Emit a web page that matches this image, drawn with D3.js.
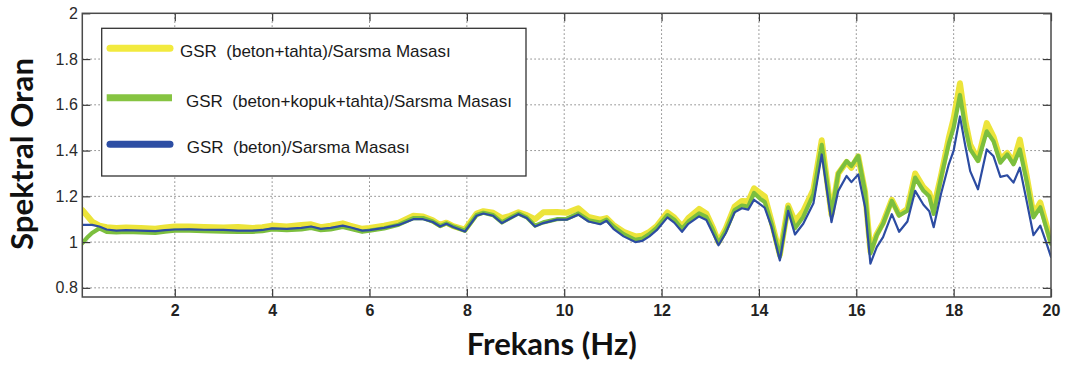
<!DOCTYPE html>
<html>
<head>
<meta charset="utf-8">
<script src="https://cdn.jsdelivr.net/npm/d3@7"></script>
<style>
  html, body { margin: 0; padding: 0; background: #fff; }
  svg { display: block; }
</style>
</head>
<body>
<svg id="chart" width="1065" height="372"></svg>
<script>
// ---- Data ----
const frequencies = [
  0.1, 0.2, 0.3, 0.45, 0.6, 0.8, 1.0, 1.3, 1.6, 1.8, 2.0, 2.3, 2.6, 3.0, 3.3, 3.6, 3.8,
  4.0, 4.3, 4.6, 4.8, 5.0, 5.2, 5.45, 5.6, 5.85, 6.0, 6.3, 6.6, 6.9, 7.1, 7.3, 7.45,
  7.58, 7.72, 7.96, 8.2, 8.34, 8.54, 8.72, 8.89, 9.06, 9.23, 9.4, 9.57, 9.85, 10.05,
  10.29, 10.5, 10.74, 10.87, 11.01, 11.22, 11.46, 11.6, 11.75, 11.9, 12.12, 12.26,
  12.42, 12.55, 12.77, 12.92, 13.05, 13.17, 13.32, 13.5, 13.65, 13.78, 13.9, 14.02,
  14.12, 14.26, 14.43, 14.6, 14.74, 14.91, 15.12, 15.2, 15.29, 15.49, 15.63, 15.8,
  15.9, 16.04, 16.18, 16.29, 16.42, 16.55, 16.73, 16.88, 17.05, 17.21, 17.38, 17.5,
  17.59, 17.74, 17.9, 18.0, 18.13, 18.24, 18.34, 18.5, 18.68, 18.82, 18.96, 19.1,
  19.23, 19.36, 19.5, 19.64, 19.78, 19.9, 20.0
];
const betonTahta = [ // yellow
  1.14, 1.115, 1.09, 1.072, 1.065, 1.062, 1.064, 1.062, 1.058, 1.064, 1.068, 1.068, 1.066, 1.064, 1.066, 1.062, 1.065,
  1.072, 1.068, 1.075, 1.078, 1.065, 1.072, 1.082, 1.072, 1.058, 1.062, 1.072, 1.085, 1.115, 1.112, 1.095, 1.075,
  1.085, 1.07, 1.055, 1.125, 1.135, 1.128, 1.105, 1.115, 1.13, 1.118, 1.1, 1.13, 1.132, 1.128,
  1.148, 1.11, 1.098, 1.105, 1.075, 1.045, 1.025, 1.028, 1.045, 1.07, 1.13, 1.108,
  1.068, 1.105, 1.145, 1.125, 1.065, 1.0, 1.06, 1.155, 1.18, 1.178, 1.235, 1.215,
  1.2, 1.09, 0.945, 1.16, 1.09, 1.135, 1.23, 1.33, 1.445, 1.12, 1.3, 1.35,
  1.325, 1.375, 1.22, 0.96, 1.035, 1.085, 1.185, 1.12, 1.145, 1.3, 1.24, 1.215,
  1.15, 1.29, 1.455, 1.54, 1.694, 1.53, 1.426, 1.36, 1.52, 1.46, 1.36, 1.39,
  1.35, 1.448, 1.29, 1.12, 1.173, 1.08, 1.0
];
const betonKopukTahta = [ // green
  0.995, 1.02, 1.04, 1.06, 1.045, 1.042, 1.044, 1.042, 1.04, 1.046, 1.05, 1.05, 1.048, 1.046, 1.044, 1.045, 1.048,
  1.055, 1.052, 1.055, 1.062, 1.052, 1.055, 1.066, 1.058, 1.045, 1.05, 1.06, 1.076, 1.105, 1.105, 1.09, 1.07,
  1.082, 1.068, 1.05, 1.118, 1.128, 1.118, 1.086, 1.106, 1.125, 1.108, 1.072, 1.086, 1.1, 1.102,
  1.125, 1.095, 1.085, 1.098, 1.068, 1.035, 1.01, 1.015, 1.035, 1.062, 1.118, 1.098,
  1.058, 1.09, 1.125, 1.11, 1.055, 0.995, 1.05, 1.14, 1.16, 1.155, 1.215, 1.19,
  1.175, 1.08, 0.935, 1.152, 1.06, 1.11, 1.21, 1.31, 1.425, 1.12, 1.3, 1.354,
  1.333, 1.376, 1.22, 0.95, 1.03, 1.08, 1.18, 1.116, 1.137, 1.282, 1.224, 1.2,
  1.123, 1.28, 1.43, 1.5, 1.643, 1.5, 1.405, 1.354, 1.484, 1.44, 1.347, 1.383,
  1.34, 1.405, 1.267, 1.108, 1.152, 1.065, 0.993
];
const beton = [ // blue
  1.075, 1.075, 1.075, 1.068, 1.055, 1.05, 1.052, 1.05, 1.048, 1.052, 1.055, 1.056, 1.054, 1.053, 1.05, 1.05, 1.053,
  1.06, 1.058, 1.062, 1.068, 1.058, 1.062, 1.072, 1.065, 1.05, 1.052, 1.062, 1.075, 1.1, 1.1, 1.088, 1.068,
  1.08, 1.066, 1.046, 1.115, 1.125, 1.115, 1.083, 1.103, 1.122, 1.105, 1.068, 1.083, 1.098, 1.098,
  1.12, 1.09, 1.078, 1.093, 1.058, 1.025, 1.0, 1.005, 1.025, 1.052, 1.108, 1.085,
  1.045, 1.08, 1.112, 1.097, 1.04, 0.986, 1.04, 1.13, 1.148, 1.142, 1.185, 1.166,
  1.15, 1.065, 0.92, 1.137, 1.033, 1.08, 1.17, 1.27, 1.383, 1.087, 1.224, 1.289,
  1.262, 1.296, 1.152, 0.906, 0.978, 1.022, 1.122, 1.045, 1.09, 1.224, 1.163, 1.135,
  1.065, 1.21, 1.34, 1.4, 1.549, 1.42, 1.31, 1.231, 1.405, 1.375, 1.285, 1.292,
  1.26, 1.325, 1.18, 1.03, 1.072, 1.0, 0.935
];
const seriesNames = [
  "GSR  (beton+tahta)/Sarsma Masası",
  "GSR  (beton+kopuk+tahta)/Sarsma Masası",
  "GSR  (beton)/Sarsma Masası"
];
const xTicks = [2, 4, 6, 8, 10, 12, 14, 16, 18, 20];
const yTicks = [0.8, 1, 1.2, 1.4, 1.6, 1.8, 2];
const xTitle = "Frekans (Hz)";
const yTitle = "Spektral Oran";

// ---- Layout ----
const svg = d3.select("#chart");
const L = 82.3, R = 1051, T = 13.3, B = 297;
const x = d3.scaleLinear().domain([0.1, 20]).range([L, R]);
const y = d3.scaleLinear().domain([0.76, 2]).range([B, T]);

svg.append("rect").attr("width", 1065).attr("height", 372).attr("fill", "#fff");

// clip
svg.append("clipPath").attr("id", "plotclip")
  .append("rect").attr("x", L).attr("y", T).attr("width", R - L).attr("height", B - T);

// grid
const grid = svg.append("g").attr("stroke", "#8a8a8a").attr("stroke-width", 1)
  .attr("stroke-dasharray", "1.6,2.4");
grid.selectAll(".gx").data(xTicks.filter(d => d < 20)).join("line")
  .attr("x1", d => x(d)).attr("x2", d => x(d)).attr("y1", T).attr("y2", B);
grid.selectAll(".gy").data(yTicks.filter(d => d < 2)).join("line")
  .attr("x1", L).attr("x2", R).attr("y1", d => y(d)).attr("y2", d => y(d));

// lines
const lineGen = vals => d3.line()
  .x((d, i) => x(frequencies[i]))
  .y(d => y(d))
  .curve(d3.curveLinear)(vals);

const lines = svg.append("g").attr("clip-path", "url(#plotclip)").attr("fill", "none")
  .attr("stroke-linejoin", "round").attr("stroke-linecap", "round");
lines.append("path").attr("d", lineGen(betonTahta)).attr("stroke", "#ece43a").attr("stroke-width", 6);
lines.append("path").attr("d", lineGen(betonKopukTahta)).attr("stroke", "#7cbf3e").attr("stroke-width", 4.2);
lines.append("path").attr("d", lineGen(beton)).attr("stroke", "#2c4ca2").attr("stroke-width", 2.2);

// axes (matlab style ticks inside, on all four sides)
const tickLen = 8;
const axB = svg.append("g").attr("transform", `translate(0,${B})`)
  .call(d3.axisBottom(x).tickValues(xTicks).tickSize(-tickLen).tickPadding(8).tickFormat(d3.format("d")));
const axT = svg.append("g").attr("transform", `translate(0,${T})`)
  .call(d3.axisTop(x).tickValues(xTicks).tickSize(-tickLen).tickFormat(""));
const axL = svg.append("g").attr("transform", `translate(${L},0)`)
  .call(d3.axisLeft(y).tickValues(yTicks).tickSize(-tickLen).tickPadding(4.5).tickFormat(d => d3.format("")(d)));
const axR = svg.append("g").attr("transform", `translate(${R},0)`)
  .call(d3.axisRight(y).tickValues(yTicks).tickSize(-tickLen).tickFormat(""));

[axB, axT, axL, axR].forEach(a => {
  a.select(".domain").remove();
  a.selectAll(".tick line").attr("stroke", "#3a3a3a").attr("stroke-width", 1.2);
  a.selectAll("text").attr("font-family", "'Liberation Sans', Arial, sans-serif")
    .attr("font-size", 16).attr("fill", "#1a1a1a");
});
axB.selectAll("text").attr("font-weight", "bold").attr("fill", "#222");
axL.selectAll("text").attr("fill", "#2a2a2a");

// frame
svg.append("rect").attr("x", L).attr("y", T).attr("width", R - L).attr("height", B - T)
  .attr("fill", "none").attr("stroke", "#4a4a4a").attr("stroke-width", 1.5);

// titles
svg.append("text").attr("x", 551.7).attr("y", 355)
  .attr("text-anchor", "middle").attr("font-family", "Lato, 'Open Sans', sans-serif")
  .attr("font-weight", "bold").attr("font-size", 30).attr("fill", "#111")
  .attr("textLength", 170).attr("lengthAdjust", "spacingAndGlyphs")
  .text(xTitle);
svg.append("text").attr("transform", "translate(33,154) rotate(-90)")
  .attr("text-anchor", "middle").attr("font-family", "Lato, 'Open Sans', sans-serif")
  .attr("font-weight", "bold").attr("font-size", 30).attr("fill", "#111")
  .attr("textLength", 192).attr("lengthAdjust", "spacingAndGlyphs")
  .text(yTitle);

// legend
const lg = svg.append("g");
lg.append("rect").attr("x", 101.7).attr("y", 28.3).attr("width", 424.3).attr("height", 147.7)
  .attr("fill", "#fff").attr("stroke", "#333").attr("stroke-width", 1.3);
const legendColors = ["#f2ea3e", "#86c442", "#2d4ea4"];
const legendRows = [48.3, 97.7, 144.3];
const legendTextX = [180, 186, 186.7];
const legendCaps = ["round", "butt", "round"];
seriesNames.forEach((name, i) => {
  lg.append("line").attr("x1", i === 1 ? 106.7 : 110).attr("x2", i === 1 ? 172 : 170)
    .attr("y1", legendRows[i]).attr("y2", legendRows[i])
    .attr("stroke", legendColors[i]).attr("stroke-width", 7).attr("stroke-linecap", legendCaps[i]);
  lg.append("text").attr("x", legendTextX[i]).attr("y", legendRows[i] + 9)
    .attr("font-family", "'Liberation Sans', Arial, sans-serif").attr("font-size", 17)
    .attr("fill", "#1a1a1a").attr("xml:space", "preserve").style("white-space", "pre")
    .text(name);
});
</script>
</body>
</html>
